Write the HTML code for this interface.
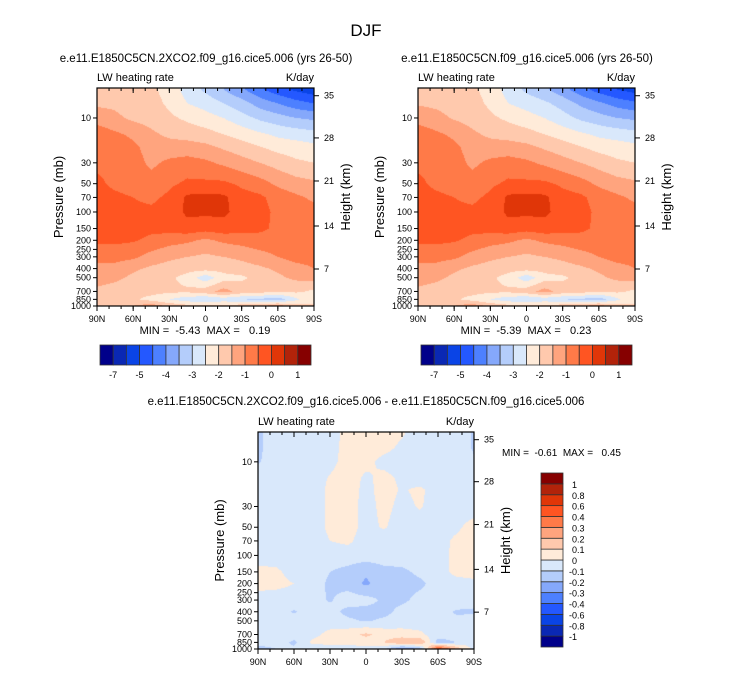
<!DOCTYPE html>
<html><head><meta charset="utf-8">
<style>
html,body{margin:0;padding:0;background:#fff;}
#wrap{position:relative;width:733px;height:673px;overflow:hidden;font-family:"Liberation Sans",sans-serif;}
canvas{position:absolute;}
svg{position:absolute;left:0;top:0;}
text{white-space:pre;}
</style></head>
<body>
<div id="wrap">
<canvas id="c1" width="217" height="218" style="left:97px;top:88px"></canvas>
<canvas id="c2" width="217" height="218" style="left:418px;top:88px"></canvas>
<canvas id="c3" width="216" height="217" style="left:258px;top:432px"></canvas>
<svg id="ov" width="733" height="673"></svg>
</div>
<script>
const lats = ["90N","75N","60N","45N","30N","15N","0","15S","30S","45S","60S","75S","90S"];
const levels = [5,7,10,15,20,30,50,70,100,150,200,300,400,500,700,850,1000];
const pTicks = [10,30,50,70,100,150,200,250,300,400,500,700,850,1000];
const latTicks = ["90N","60N","30N","0","30S","60S","90S"];
const kmTicks = [35,28,21,14,7];
const kmPress = [5.8,16.3,46.8,141,404];
const absBounds = [-7,-6,-5,-4.5,-4,-3.5,-3,-2.5,-2,-1.5,-1,-0.5,0,0.5,1];
const absLabels = ["-7","-5","-4","-3","-2","-1","0","1"];
const diffBounds = [-1,-0.8,-0.6,-0.4,-0.3,-0.2,-0.1,0,0.1,0.2,0.3,0.4,0.6,0.8,1];
const diffLabels = ["-1","-0.8","-0.6","-0.4","-0.3","-0.2","-0.1","0","0.1","0.2","0.3","0.4","0.6","0.8","1"];
const palette = ["#00008a","#0a28b4","#0a44e6","#2458ff","#4d80ff","#85a8fb","#b4cdfb","#d9e8fb","#ffebd9","#ffc9ad","#ffa47e","#ff7a48","#ff5522","#e03608","#b2230a","#860000"];
const exp2xValues = [
[-1.75,-1.75,-1.8,-1.9,-2.2,-2.7,-3.1,-3.5,-3.9,-4.4,-4.8,-5.1,-5.3],
[-1.6,-1.6,-1.7,-1.8,-2.1,-2.5,-2.7,-3.0,-3.3,-3.7,-4.0,-4.3,-4.5],
[-1.2,-1.4,-1.6,-1.7,-1.9,-2.1,-2.3,-2.5,-2.8,-3.1,-3.3,-3.5,-3.6],
[-0.7,-0.9,-1.1,-1.4,-1.6,-1.7,-1.8,-2.0,-2.2,-2.4,-2.6,-2.7,-2.8],
[-0.6,-0.7,-0.9,-1.2,-1.3,-1.3,-1.4,-1.6,-1.8,-2.0,-2.2,-2.3,-2.4],
[-0.6,-0.6,-0.8,-1.1,-0.9,-0.8,-0.9,-1.1,-1.3,-1.5,-1.7,-1.9,-2.0],
[-0.4,-0.6,-0.7,-0.8,-0.6,-0.4,-0.4,-0.4,-0.6,-0.8,-1.1,-1.3,-1.4],
[-0.3,-0.4,-0.5,-0.6,-0.4,0.1,0.15,0.1,-0.3,-0.4,-0.7,-0.9,-1.1],
[-0.3,-0.3,-0.4,-0.4,-0.3,0.1,0.1,0.1,-0.2,-0.35,-0.6,-0.7,-0.8],
[-0.3,-0.3,-0.35,-0.4,-0.3,-0.2,-0.3,-0.2,-0.3,-0.4,-0.6,-0.7,-0.8],
[-0.4,-0.4,-0.45,-0.6,-0.8,-0.9,-1.1,-0.9,-0.8,-0.7,-0.7,-0.7,-0.7],
[-0.9,-0.8,-0.9,-1.2,-1.4,-1.5,-1.6,-1.5,-1.4,-1.2,-1.0,-0.8,-0.8],
[-1.1,-1.2,-1.4,-1.6,-1.7,-1.8,-1.8,-1.8,-1.7,-1.6,-1.4,-1.2,-1.0],
[-1.3,-1.4,-1.6,-1.8,-1.9,-2.2,-2.8,-2.2,-2.1,-1.8,-1.6,-1.4,-1.3],
[-1.6,-1.7,-1.8,-1.8,-1.9,-1.9,-1.7,-1.3,-1.7,-1.8,-1.9,-1.9,-2.1],
[-1.8,-1.7,-1.9,-2.2,-2.5,-2.8,-3.0,-2.8,-3.0,-3.1,-3.3,-2.6,-2.0],
[-1.8,-1.7,-1.5,-1.2,-1.6,-1.8,-1.9,-1.8,-1.7,-1.5,-1.2,-1.8,-2.0]];
const ctrlValues = [
[-1.7,-1.7,-1.8,-1.9,-2.2,-2.7,-3.1,-3.4,-3.8,-4.3,-4.7,-5.0,-5.2],
[-1.55,-1.6,-1.7,-1.8,-2.1,-2.5,-2.7,-2.9,-3.2,-3.6,-3.9,-4.2,-4.4],
[-1.2,-1.35,-1.55,-1.7,-1.9,-2.1,-2.3,-2.5,-2.8,-3.1,-3.3,-3.5,-3.6],
[-0.7,-0.9,-1.1,-1.4,-1.6,-1.7,-1.8,-2.0,-2.2,-2.4,-2.6,-2.7,-2.8],
[-0.6,-0.7,-0.9,-1.2,-1.3,-1.3,-1.4,-1.6,-1.8,-2.0,-2.2,-2.3,-2.4],
[-0.6,-0.6,-0.8,-1.1,-0.9,-0.8,-0.9,-1.1,-1.3,-1.5,-1.7,-1.9,-2.0],
[-0.4,-0.6,-0.7,-0.8,-0.6,-0.4,-0.4,-0.4,-0.6,-0.8,-1.1,-1.3,-1.4],
[-0.3,-0.4,-0.5,-0.6,-0.4,0.1,0.15,0.1,-0.3,-0.4,-0.7,-0.9,-1.1],
[-0.3,-0.3,-0.4,-0.4,-0.3,0.1,0.1,0.1,-0.2,-0.35,-0.6,-0.7,-0.8],
[-0.3,-0.3,-0.35,-0.4,-0.3,-0.2,-0.3,-0.2,-0.3,-0.4,-0.6,-0.7,-0.8],
[-0.4,-0.4,-0.45,-0.6,-0.8,-0.9,-1.1,-0.9,-0.8,-0.7,-0.7,-0.7,-0.7],
[-0.9,-0.8,-0.9,-1.2,-1.4,-1.5,-1.6,-1.5,-1.4,-1.2,-1.0,-0.8,-0.8],
[-1.1,-1.2,-1.4,-1.6,-1.7,-1.8,-1.8,-1.8,-1.7,-1.6,-1.4,-1.2,-1.0],
[-1.3,-1.4,-1.6,-1.8,-1.9,-2.2,-2.8,-2.2,-2.1,-1.8,-1.6,-1.4,-1.3],
[-1.6,-1.7,-1.8,-1.8,-1.9,-1.9,-1.7,-1.3,-1.7,-1.8,-1.9,-1.9,-2.1],
[-1.8,-1.7,-1.9,-2.2,-2.5,-2.8,-3.0,-2.8,-3.0,-3.1,-3.3,-2.6,-2.0],
[-1.8,-1.7,-1.5,-1.2,-1.6,-1.8,-1.9,-1.8,-1.7,-1.5,-1.2,-1.8,-2.0]];
const diffValues = [
[-0.12,-0.05,-0.05,-0.05,-0.05,0.04,0.05,0.05,0.01,-0.05,-0.05,-0.05,-0.11],
[-0.12,-0.05,-0.05,-0.05,-0.04,0.04,0.04,0.03,-0.02,-0.05,-0.05,-0.05,-0.11],
[-0.11,-0.05,-0.05,-0.05,-0.03,0.04,0.03,-0.03,-0.05,-0.05,-0.05,-0.05,-0.09],
[-0.05,-0.05,-0.05,-0.05,0.01,0.05,-0.02,0.03,-0.02,-0.05,-0.05,-0.05,-0.05],
[-0.05,-0.05,-0.05,-0.05,0.02,0.05,-0.03,0.04,-0.01,0.02,-0.05,-0.05,-0.05],
[-0.05,-0.05,-0.05,-0.05,0.02,0.05,-0.04,0.03,-0.03,0.01,-0.05,-0.05,-0.05],
[-0.05,-0.05,-0.05,-0.05,0.02,0.04,-0.03,0.01,-0.05,-0.05,-0.05,-0.02,0.04],
[-0.05,-0.05,-0.05,-0.05,0.0,0.02,-0.05,-0.05,-0.05,-0.05,-0.04,0.02,0.05],
[-0.05,-0.05,-0.05,-0.05,-0.05,-0.05,-0.05,-0.05,-0.05,-0.05,-0.03,0.02,0.05],
[0.03,0.02,-0.04,-0.05,-0.1,-0.13,-0.18,-0.13,-0.12,-0.08,-0.03,0.02,0.03],
[0.04,0.03,0.0,-0.05,-0.12,-0.14,-0.22,-0.14,-0.13,-0.12,-0.06,-0.03,-0.02],
[-0.05,-0.05,-0.05,-0.06,-0.11,-0.05,-0.06,-0.12,-0.12,-0.07,-0.05,-0.05,-0.05],
[-0.05,-0.05,-0.11,-0.06,-0.06,-0.13,-0.14,-0.13,-0.07,-0.05,-0.06,-0.11,-0.12],
[-0.05,-0.05,-0.05,-0.05,-0.05,-0.08,-0.11,-0.08,-0.05,-0.05,-0.05,-0.08,-0.05],
[-0.05,-0.05,-0.05,-0.03,0.03,0.06,0.12,0.06,0.04,0.02,-0.05,-0.05,0.0],
[-0.05,-0.05,-0.12,0.02,0.04,0.04,0.05,0.1,0.2,0.2,-0.15,-0.1,-0.02],
[-0.15,-0.1,-0.08,-0.08,-0.06,-0.05,-0.05,-0.08,-0.3,-0.2,0.5,0.2,-0.05]];

const PTOP = 4.8;
const ov = document.getElementById('ov');
const NS = 'http://www.w3.org/2000/svg';
function mk(tag, attrs, parent){const e=document.createElementNS(NS,tag);for(const k in attrs)e.setAttribute(k,attrs[k]);(parent||ov).appendChild(e);return e;}
function yOfP(p, y0, h){const a=Math.log10(PTOP), b=3;return y0+(Math.log10(p)-a)/(b-a)*h;}
function binOf(v,b){let k=0;for(const t of b){if(v>=t)k++;}return k;}
function hexRgb(h){return [parseInt(h.substr(1,2),16),parseInt(h.substr(3,2),16),parseInt(h.substr(5,2),16)];}
const rgbPal = palette.map(hexRgb);
const logL = levels.map(Math.log10);

function fill(id, vals, bounds){
  const c=document.getElementById(id), ctx=c.getContext('2d'), w=c.width, h=c.height;
  const img=ctx.createImageData(w,h);
  const a=Math.log10(PTOP);
  for(let py=0;py<h;py++){
    let lp=a+(py+0.5)/h*(3-a);
    if(lp<logL[0])lp=logL[0];
    let r=0;while(r<logL.length-2&&lp>logL[r+1])r++;
    const fy=Math.min(1,Math.max(0,(lp-logL[r])/(logL[r+1]-logL[r])));
    for(let px=0;px<w;px++){
      const fx=(px+0.5)/w*(lats.length-1);
      let ci=Math.min(lats.length-2,Math.floor(fx));const tx=fx-ci;
      const v=(vals[r][ci]*(1-tx)+vals[r][ci+1]*tx)*(1-fy)+(vals[r+1][ci]*(1-tx)+vals[r+1][ci+1]*tx)*fy;
      const col=rgbPal[binOf(v,bounds)];const o=(py*w+px)*4;
      img.data[o]=col[0];img.data[o+1]=col[1];img.data[o+2]=col[2];img.data[o+3]=255;
    }
  }
  ctx.putImageData(img,0,0);
}

function txt(s,x,y,size,anchor,name,extra){const t=mk('text',Object.assign({x:x,y:y,'font-size':size,'text-anchor':anchor||'start','font-family':'Liberation Sans, sans-serif',fill:'#000'},extra||{}));t.textContent=s;return t;}

function axes(x0,y0,w,h,prefix){
  const g=mk('g',{});
  
  
  mk('rect',{x:x0,y:y0,width:w,height:h,fill:'none',stroke:'#000','stroke-width':1.2},g);
  latTicks.forEach((l,i)=>{const x=x0+i/(latTicks.length-1)*w;
    mk('line',{x1:x,x2:x,y1:y0+h,y2:y0+h+5,stroke:'#000'},g);
    mk('line',{x1:x,x2:x,y1:y0,y2:y0+5,stroke:'#000'},g);
    txt(l,x,y0+h+16,9,'middle',prefix+'-lat-label');});
  for(let k=0;k<=18;k++){const x=x0+k/18*w;mk('line',{x1:x,x2:x,y1:y0,y2:y0+3,stroke:'#000'},g);mk('line',{x1:x,x2:x,y1:y0+h,y2:y0+h+3,stroke:'#000'},g);}
  pTicks.forEach(p=>{const y=yOfP(p,y0,h);mk('line',{x1:x0-4,x2:x0,y1:y,y2:y,stroke:'#000'},g);
    txt(String(p),x0-6,y+3,9,'end',prefix+'-pressure-label');});
  kmTicks.forEach((k,i)=>{const y=yOfP(kmPress[i],y0,h);mk('line',{x1:x0+w,x2:x0+w+5,y1:y,y2:y,stroke:'#000'},g);
    txt(String(k),x0+w+10,y+3,9,'start',prefix+'-height-label');});
  txt('LW heating rate',x0,y0-7,11,'start',prefix+'-variable-label');
  txt('K/day',x0+w,y0-7,11,'end',prefix+'-units-label');
  txt('Pressure (mb)',0,0,13,'middle',prefix+'-y-axis-title',{transform:`translate(${x0-34},${y0+h/2}) rotate(-90)`});
  txt('Height (km)',0,0,13,'middle',prefix+'-right-axis-title',{transform:`translate(${x0+w+36},${y0+h/2}) rotate(-90)`});
}

function hbar(x0,y0,w,h,prefix){
  const n=palette.length,bw=w/n;
  palette.forEach((c,i)=>{const r=mk('rect',{x:x0+i*bw,y:y0,width:bw,height:h,fill:c,stroke:'#333','stroke-width':0.8});
    });
  absLabels.forEach((l,j)=>{const b=2*j+1;txt(l,x0+b*bw,y0+h+13,9,'middle',prefix+'-colorbar-label');});
}
function vbar(x0,y0,w,h){
  const n=palette.length,bh=h/n;
  palette.forEach((c,i)=>{const r=mk('rect',{x:x0,y:y0+h-(i+1)*bh,width:w,height:bh,fill:c,stroke:'#333','stroke-width':0.8});
    });
  diffLabels.forEach((l,j)=>{const y=y0+h-(j+1)*bh;txt(l,x0+w+(l[0]==='-'?6:9),y+4,9,'start','diff-colorbar-label');});
}

fill('c1',exp2xValues,absBounds);
fill('c2',ctrlValues,absBounds);
fill('c3',diffValues,diffBounds);

txt('DJF',366,36,17,'middle','figure-title');
txt('e.e11.E1850C5CN.2XCO2.f09_g16.cice5.006 (yrs 26-50)',206,62,11.5,'middle','left-panel-title');
txt('e.e11.E1850C5CN.f09_g16.cice5.006 (yrs 26-50)',527,62,11.5,'middle','right-panel-title');
txt('e.e11.E1850C5CN.2XCO2.f09_g16.cice5.006 - e.e11.E1850C5CN.f09_g16.cice5.006',366,405,11.5,'middle','diff-panel-title');
axes(97,88,217,218,'left');
axes(418,88,217,218,'right');
axes(258,432,216,217,'diff');
txt('MIN =  -5.43  MAX =   0.19',205,334,11,'middle','left-minmax');
txt('MIN =  -5.39  MAX =   0.23',526,334,11,'middle','right-minmax');
txt('MIN =  -0.61  MAX =   0.45',502,456,10,'start','diff-minmax');
hbar(100,345,211,20,'left');
hbar(421,345,211,20,'right');
vbar(541,473,22,174);
</script>
</body></html>
